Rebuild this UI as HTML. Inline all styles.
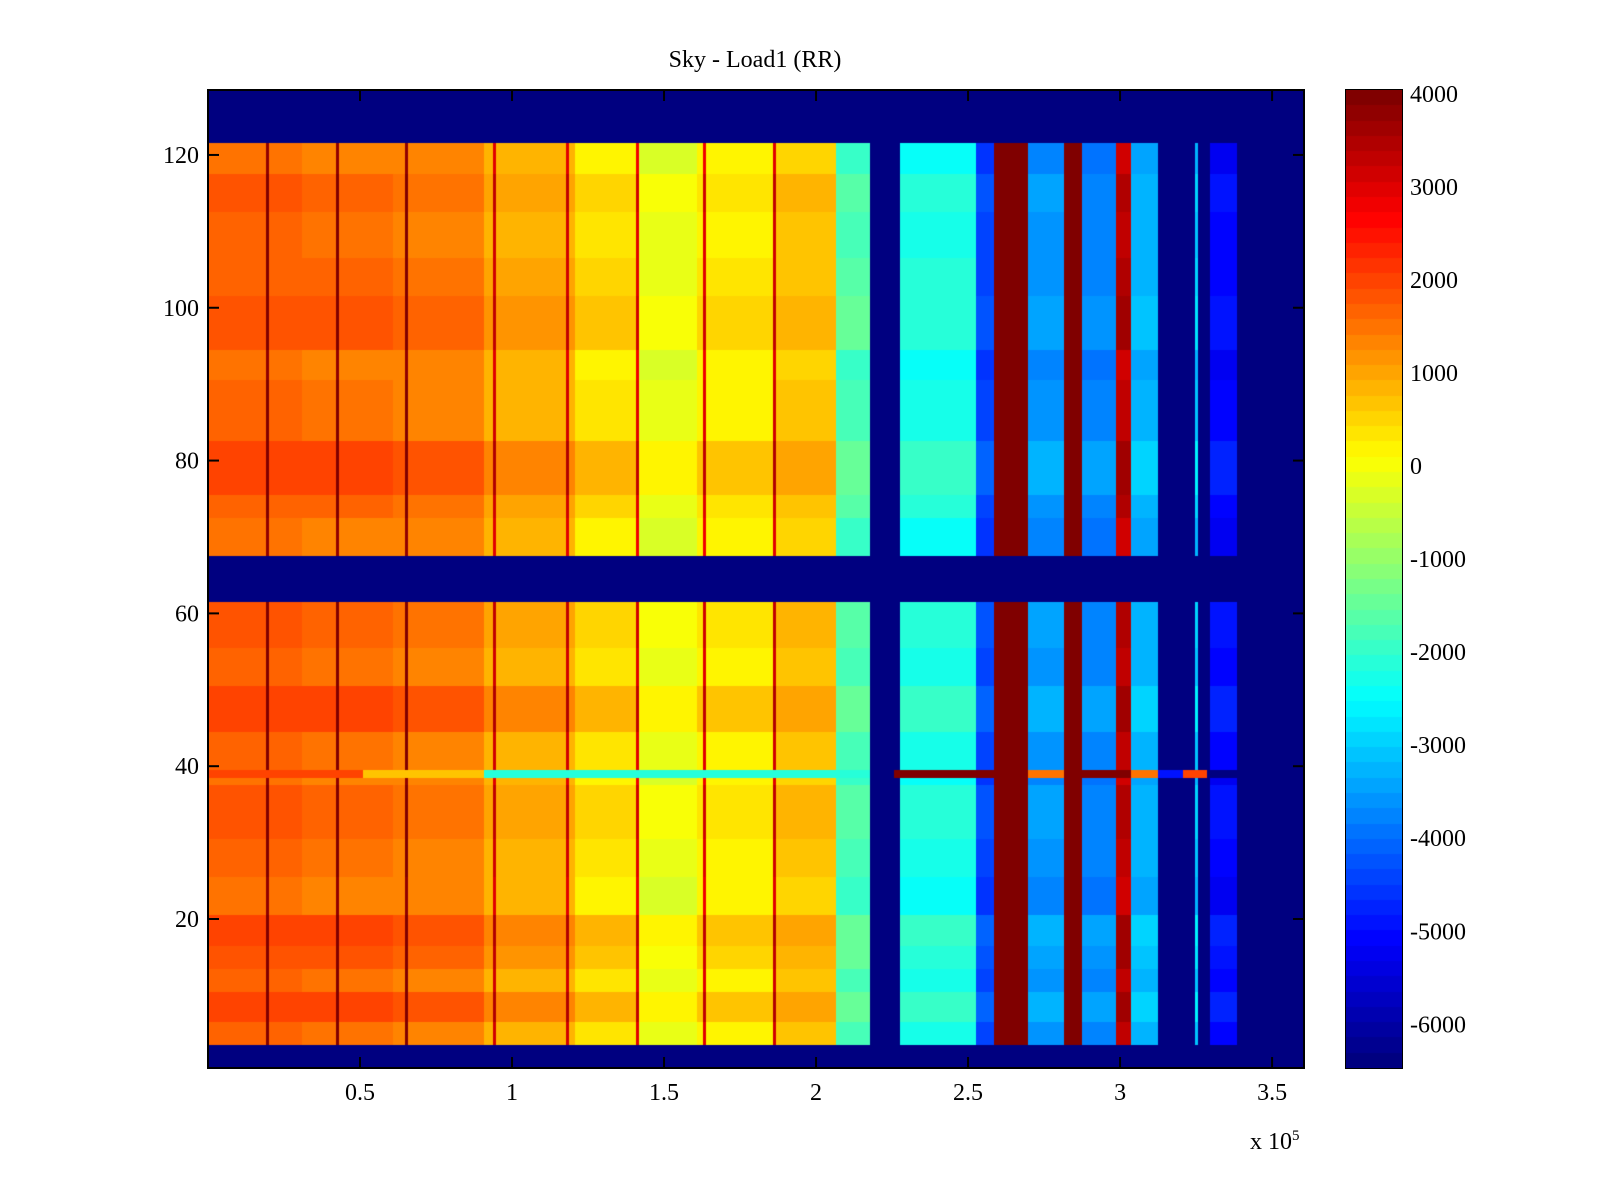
<!DOCTYPE html>
<html><head><meta charset="utf-8"><style>
body{margin:0;background:#fff;width:1600px;height:1200px;position:relative;overflow:hidden;font-family:"Liberation Serif",serif;}
.t{position:absolute;font-size:24px;color:#000;white-space:nowrap;}
canvas{position:absolute;}
</style></head><body>
<div class="t" style="left:0;width:1510px;text-align:center;top:47px;">Sky - Load1 (RR)</div>
<canvas id="hm" width="1096" height="978" style="left:208px;top:90px;"></canvas>
<svg id="ax" width="1600" height="1200" style="position:absolute;left:0;top:0"></svg>
<canvas id="cb" width="56" height="978" style="left:1346px;top:90px;"></canvas>
<div class="t" style="left:1250px;top:1128px;">x 10<sup style="font-size:15px">5</sup></div>
<script>
// data
const xSegStart=[0,0.3,0.6,0.9,1.2,1.4,1.6,1.85,2.06,2.17,2.27,2.52,2.58,2.69,2.81,2.875,2.98,3.03,3.125,3.24,3.255,3.29,3.38];
const xSegValue=[1500,1400,1250,750,250,-300,100,500,-1900,-6450,-2400,-4600,4000,-3800,4000,-4000,3200,-3500,-6450,-3200,-6450,-5300,-6450];
const spikeX=[0.19,0.42,0.65,0.94,1.18,1.41,1.63,1.855];
const spikeValue=[3800,3800,3800,3000,3000,2800,2800,3000];
const rowRuns=[[4,6,150],[7,10,500],[11,13,150],[14,16,350],[17,20,500],[21,25,0],[26,30,150],[31,37,300],[38,38,0],[40,44,150],[45,50,500],[51,55,150],[56,61,300],[68,72,0],[73,75,200],[76,82,500],[83,90,150],[91,94,0],[95,101,350],[102,106,200],[107,112,150],[113,117,300],[118,121,0]];
const specialRow=39;
const specialSegStart=[0,0.5,0.9,2.17,2.25,2.69,2.81,3.03,3.12,3.2,3.28];
const specialSegValue=[2000,600,-2200,-6450,4000,1500,4000,1500,-5000,2000,-6450];
const cTicks=[4000,3000,2000,1000,0,-1000,-2000,-3000,-4000,-5000,-6000];
const xTicks=[0.5,1,1.5,2,2.5,3,3.5];
const yTicks=[20,40,60,80,100,120];
const xMin=0,xMax=3.605,yMin=0.5,yMax=128.5,cMin=-6480,cMax=4030;
const nCols=361;
// scales
const W=1096,H=978,L=208,T=90;
const sx=v=>(v-xMin)/(xMax-xMin)*W;
const sy=v=>(yMax-v)/(yMax-yMin)*H;
function jet(v){let t=(v-cMin)/(cMax-cMin);t=Math.max(0,Math.min(1,t));t=Math.floor(t*63.999)/63;
 const c=x=>Math.round(255*Math.max(0,Math.min(1,x)));
 return `rgb(${c(1.5-Math.abs(4*t-3))},${c(1.5-Math.abs(4*t-2))},${c(1.5-Math.abs(4*t-1))})`;}
function seg(starts,vals,x){let v=vals[0];for(let i=0;i<starts.length;i++)if(x>=starts[i])v=vals[i];return v;}
function rowOff(r){for(const rr of rowRuns)if(r>=rr[0]&&r<=rr[1])return rr[2];return null;}
const ctx=document.getElementById('hm').getContext('2d');
ctx.fillStyle=jet(cMin);ctx.fillRect(0,0,W,H);
const dx=(xMax-xMin)/nCols;
for(let r=1;r<=128;r++){
 const off=rowOff(r);const special=r===specialRow;
 if(off===null&&!special)continue;
 const y0=Math.round(sy(r+0.5)),y1=Math.round(sy(r-0.5));
 for(let j=0;j<nCols;j++){
  const x=xMin+j*dx;let v;
  if(special){v=seg(specialSegStart,specialSegValue,x);}
  else{v=seg(xSegStart,xSegValue,x);
   for(let k=0;k<spikeX.length;k++)if(Math.abs(x-spikeX[k])<dx*0.6)v=spikeValue[k];
   if(v>-6000&&v<3900)v+=off;}
  ctx.fillStyle=jet(v);
  const x0=Math.round(sx(x)),x1=Math.round(sx(x+dx));
  ctx.fillRect(x0,y0,x1-x0,y1-y0);
 }
}
// colorbar
const cb=document.getElementById('cb').getContext('2d');
const cy=v=>(cMax-v)/(cMax-cMin)*H;
for(let i=0;i<64;i++){const v0=cMin+(cMax-cMin)*i/64,v1=cMin+(cMax-cMin)*(i+1)/64;
 cb.fillStyle=jet((v0+v1)/2);const a=Math.round(cy(v1)),b=Math.round(cy(v0));cb.fillRect(0,a,56,b-a);}
// axes
const svg=document.getElementById('ax');const NS='http://www.w3.org/2000/svg';
function mk(tag,attrs,parent){const e=document.createElementNS(NS,tag);for(const k in attrs)e.setAttribute(k,attrs[k]);(parent||svg).appendChild(e);return e;}
const frame=mk('rect',{x:L,y:T,width:W,height:H,fill:'none',stroke:'#000','stroke-width':2});


const cfr=mk('rect',{x:1346,y:T,width:56,height:H,fill:'none',stroke:'#000','stroke-width':2});


const st={fill:'#000','font-family':'Liberation Serif, serif','font-size':24};
xTicks.forEach(v=>{const x=L+sx(v);
 mk('line',{x1:x,x2:x,y1:T+H,y2:T+H-11,stroke:'#000','stroke-width':2});
 mk('line',{x1:x,x2:x,y1:T,y2:T+11,stroke:'#000','stroke-width':2});
 const t=mk('text',Object.assign({x:x,y:T+H+32,'text-anchor':'middle'},st));t.textContent=v;
 
 });
yTicks.forEach(v=>{const y=T+sy(v);
 mk('line',{x1:L,x2:L+11,y1:y,y2:y,stroke:'#000','stroke-width':2});
 mk('line',{x1:L+W,x2:L+W-11,y1:y,y2:y,stroke:'#000','stroke-width':2});
 const t=mk('text',Object.assign({x:L-9,y:y+8,'text-anchor':'end'},st));t.textContent=v;
 
 });
cTicks.forEach(v=>{const y=T+cy(v);
 mk('line',{x1:1346,x2:1354,y1:y,y2:y,stroke:'#000','stroke-width':2});
 mk('line',{x1:1402,x2:1394,y1:y,y2:y,stroke:'#000','stroke-width':2});
 const t=mk('text',Object.assign({x:1410,y:y+9},st));t.textContent=v;
 
 });
</script>
</body></html>
